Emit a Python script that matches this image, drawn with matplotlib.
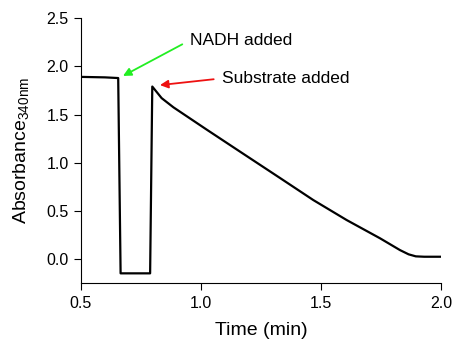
import matplotlib
matplotlib.use("Agg")
import matplotlib.pyplot as plt

plt.rcParams['font.family'] = ['Liberation Sans', 'DejaVu Sans']
plt.rcParams['mathtext.fontset'] = 'custom'
plt.rcParams['mathtext.rm'] = 'Liberation Sans'

time_min = [0.50, 0.60, 0.655, 0.665, 0.72, 0.788, 0.797, 0.836, 0.885, 1.023, 1.163,
            1.329, 1.468, 1.607, 1.746, 1.829, 1.865, 1.895, 1.93, 1.996]
absorbance = [1.89, 1.885, 1.878, -0.145, -0.145, -0.145, 1.79, 1.67, 1.575, 1.345, 1.115,
              0.843, 0.614, 0.407, 0.218, 0.096, 0.052, 0.031, 0.027, 0.027]

xticks = [0.5, 1.0, 1.5, 2.0]
yticks = [0.0, 0.5, 1.0, 1.5, 2.0, 2.5]

fig = plt.figure(figsize=(4.53, 3.40), dpi=100)
ax = fig.add_axes([81/453, 57/340, 360/453, 265/340])
ax.plot(time_min, absorbance, color='black', lw=1.6, solid_joinstyle='round')
ax.set_xlim(0.5, 2.0)
ax.set_ylim(-0.245, 2.5)
ax.set_xticks(xticks)
ax.set_xticklabels([f"{t:.1f}" for t in xticks])
ax.set_yticks(yticks)
ax.set_yticklabels([f"{t:.1f}" for t in yticks])
for s in ['top', 'right']:
    ax.spines[s].set_visible(False)
ax.tick_params(direction='out', length=5, labelsize=11.5, pad=4)
ax.set_xlabel('Time (min)', fontsize=14, labelpad=8)
ax.set_ylabel('Absorbance$_{\\mathregular{340nm}}$', fontsize=14, labelpad=10)

ax.annotate('NADH added', xy=(0.675, 1.90), xytext=(0.954, 2.27),
            fontsize=12.5, va='center', ha='left',
            arrowprops=dict(arrowstyle='-|>', color='#22ee22', lw=1.3,
                            mutation_scale=12, shrinkA=4, shrinkB=0,
                            relpos=(0.0, 0.5)))
ax.annotate('Substrate added', xy=(0.829, 1.805), xytext=(1.0875, 1.875),
            fontsize=12.5, va='center', ha='left',
            arrowprops=dict(arrowstyle='-|>', color='#ee1111', lw=1.3,
                            mutation_scale=12, shrinkA=4, shrinkB=0,
                            relpos=(0.0, 0.5)))

fig.savefig('out.png', dpi=100)
